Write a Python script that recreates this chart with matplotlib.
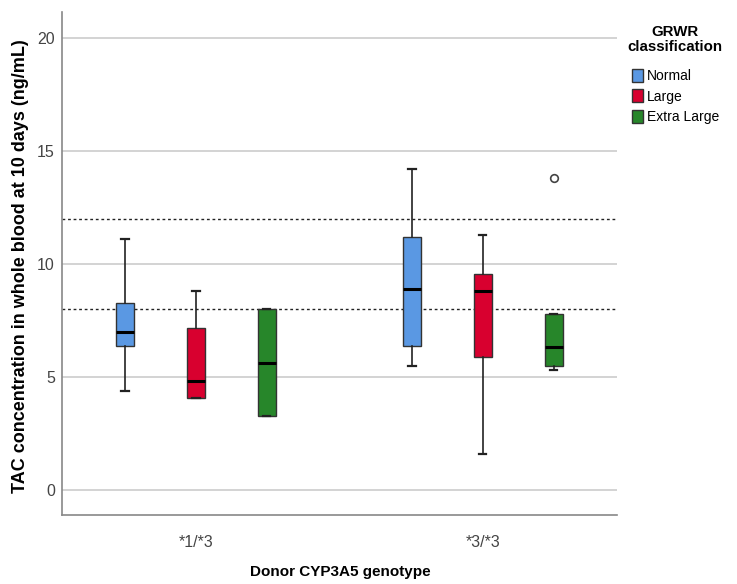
import numpy as np
import matplotlib.pyplot as plt
from matplotlib.patches import Patch

plt.rcParams['font.family'] = ['Liberation Sans', 'DejaVu Sans']
NARROW = ['Liberation Sans Narrow', 'Liberation Sans', 'DejaVu Sans']

genotypes = ['*1/*3', '*3/*3']
classes = ['Normal', 'Large', 'Extra Large']
colors = ['#5A98E3', '#D8002F', '#27862A']

# box statistics, per genotype, per GRWR class
whislo = [[4.4, 4.1, 3.3], [5.5, 1.6, 5.3]]
q1 = [[6.4, 4.1, 3.3], [6.4, 5.9, 5.5]]
med = [[7.0, 4.85, 5.65], [8.9, 8.8, 6.35]]
q3 = [[8.3, 7.2, 8.0], [11.2, 9.55, 7.8]]
whishi = [[11.1, 8.8, 8.0], [14.2, 11.3, 7.8]]
fliers = [[[], [], []], [[], [], [13.8]]]

ref_lines = [8, 12]

fig = plt.figure(figsize=(7.37, 5.84), dpi=100)
ax = fig.add_axes([0.084, 0.118, 0.753, 0.861])

offs = [-0.247, 0, 0.247]
for g in range(len(genotypes)):
    for c in range(len(classes)):
        st = dict(med=med[g][c], q1=q1[g][c], q3=q3[g][c],
                  whislo=whislo[g][c], whishi=whishi[g][c], fliers=fliers[g][c])
        ax.bxp([st], positions=[g + 1 + offs[c]], widths=0.063, patch_artist=True,
               boxprops=dict(facecolor=colors[c], edgecolor='#333333', linewidth=1),
               medianprops=dict(color='black', linewidth=2.2),
               whiskerprops=dict(color='#222222', linewidth=1.2),
               capprops=dict(color='#222222', linewidth=1.6),
               capwidths=0.025,
               flierprops=dict(marker='o', markerfacecolor='white', markeredgecolor='#444444',
                               markersize=5.5, markeredgewidth=1.2))

for r in ref_lines:
    ax.axhline(r, color='#222222', linestyle=(0, (2, 2)), linewidth=1, zorder=1)

ax.set_xlim(0.533, 2.467)
ax.set_ylim(-1.1, 21.15)
ax.set_yticks([0, 5, 10, 15, 20])
ax.set_xticks([1, 2])
ax.set_xticklabels(genotypes)
for lab in ax.get_xticklabels() + ax.get_yticklabels():
    lab.set_family(NARROW)
    lab.set_fontsize(11.5)
ax.tick_params(axis='both', length=0, colors='#444444', pad=5)
ax.tick_params(axis='x', pad=14)
ax.grid(axis='y', color='#CCCCCC', linewidth=1.2, zorder=0)
ax.set_axisbelow(True)
for s in ['top', 'right']:
    ax.spines[s].set_visible(False)
for s in ['left', 'bottom']:
    ax.spines[s].set_color('#888888')
    ax.spines[s].set_linewidth(1.2)

fig.text(21 / 737, 1 - 266 / 584, 'TAC concentration in whole blood at 10 days (ng/mL)',
         fontsize=13, fontweight='bold', rotation=90, ha='center', va='center')
fig.text(340 / 737, 1 - 572 / 584, 'Donor CYP3A5 genotype', fontsize=11,
         fontweight='bold', ha='center', va='center')

fig.text(675 / 737, 1 - 25 / 584, 'GRWR\nclassification', fontsize=10.8,
         fontweight='bold', ha='center', va='top', linespacing=1.1)
handles = [Patch(facecolor=colors[i], edgecolor='#333333', label=classes[i]) for i in range(3)]
fig.legend(handles=handles, loc='upper left', bbox_to_anchor=(632 / 737, 1 - 69 / 584),
           frameon=False, prop=dict(family=NARROW, size=10), borderpad=0, borderaxespad=0,
           handlelength=0.8, handleheight=1.05, handletextpad=0.3,
           labelspacing=0.45)

fig.savefig('out.png', dpi=100)
